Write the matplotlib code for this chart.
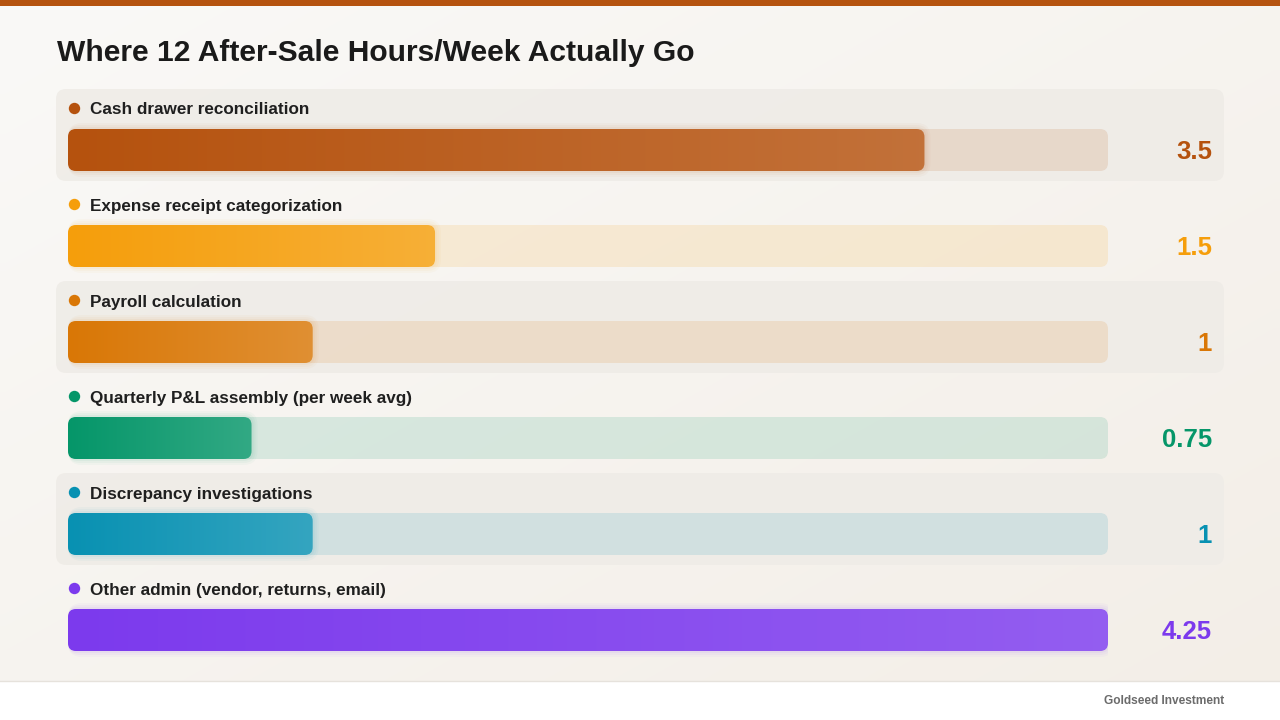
import numpy as np
import matplotlib
matplotlib.use("Agg")
import matplotlib.pyplot as plt
from matplotlib.patches import FancyBboxPatch, Rectangle
from matplotlib.colors import to_rgb
import matplotlib.transforms as mtransforms

plt.rcParams['font.family'] = ['Liberation Sans', 'DejaVu Sans']

title = "Where 12 After-Sale Hours/Week Actually Go"
categories = [
    "Cash drawer reconciliation",
    "Expense receipt categorization",
    "Payroll calculation",
    "Quarterly P&L assembly (per week avg)",
    "Discrepancy investigations",
    "Other admin (vendor, returns, email)",
]
hours = [3.5, 1.5, 1, 0.75, 1, 4.25]
colors = ["#B5520E", "#F59E0B", "#D97706", "#059669", "#0891B2", "#7C3AED"]
source = "Goldseed Investment"

W, H = 1280, 720
fig = plt.figure(figsize=(12.8, 7.2), dpi=100)

# background axes in pixel coordinates
bg = fig.add_axes([0, 0, 1, 1])
bg.set_xlim(0, W)
bg.set_ylim(H, 0)
bg.axis('off')

# diagonal soft gradient background
gy, gx = np.mgrid[0:1:72j, 0:1:128j]
t = (gx + gy) / 2
c0 = np.array(to_rgb("#FAF9F7"))
c1 = np.array(to_rgb("#F3EEE7"))
img = c0[None, None, :] * (1 - t[..., None]) + c1[None, None, :] * t[..., None]
bg.imshow(img, extent=(0, W, H, 0), aspect='auto', interpolation='bilinear', zorder=0)

# top stripe
bg.add_patch(Rectangle((0, 0), W, 6, fc="#B5530F", ec='none', zorder=1))
# footer
bg.add_patch(Rectangle((0, 681), W, 39, fc="white", ec='none', zorder=1))
bg.plot([0, W], [681, 681], color="#E6E2DC", lw=1, zorder=2)
bg.text(1224, 701, source, ha='right', va='center', fontsize=8.6,
        fontweight='bold', color="#6B6B6B", zorder=3)

# title
bg.text(57, 53, title, ha='left', va='center', fontsize=21.6,
        fontweight='bold', color="#1A1A1A", zorder=3)

# alternating row bands
row_pitch = 96
for i in range(len(categories)):
    if i % 2 == 0:
        bg.add_patch(FancyBboxPatch((56, 89 + row_pitch * i), 1168, 92,
                                    boxstyle="round,pad=0,rounding_size=10",
                                    fc="#EFECE7", ec='none', alpha=0.9, zorder=1))
bg.set_xlim(0, W)
bg.set_ylim(H, 0)

# bar axes: x in hours
n = len(categories)
ax = fig.add_axes([68 / W, (H - 678) / H, 1040 / W, 576 / H])
ax.patch.set_alpha(0)
ax.axis('off')
xmax = max(hours)
ax.set_xlim(0, xmax)
ax.set_ylim(n - 0.5, -0.5)

px_per_x = 1040 / xmax
px_per_y = 96.0
bh = 42 / px_per_y
r_px = 8
asp = px_per_x / px_per_y

blend = mtransforms.blended_transform_factory(ax.transAxes, ax.transData)

for i, (cat, v, c) in enumerate(zip(categories, hours, colors)):
    base = np.array(to_rgb(c))
    light = base + (1 - base) * 0.18
    # track
    track = FancyBboxPatch((0, i - bh / 2), xmax, bh,
                           boxstyle=f"round,pad=0,rounding_size={r_px / px_per_x}",
                           mutation_aspect=asp, fc=c, alpha=0.13, ec='none', zorder=1)
    ax.add_patch(track)
    # soft glow at bar
    for k, a in [(6, 0.03), (4, 0.04), (2, 0.05)]:
        glow = FancyBboxPatch((0, i - bh / 2 - k / px_per_y), v + k / px_per_x,
                              bh + 2 * k / px_per_y,
                              boxstyle=f"round,pad=0,rounding_size={(r_px + k) / px_per_x}",
                              mutation_aspect=asp, fc=c, alpha=a, ec='none', zorder=2)
        ax.add_patch(glow)
    # bar with gradient
    bar = FancyBboxPatch((0, i - bh / 2), v, bh,
                         boxstyle=f"round,pad=0,rounding_size={r_px / px_per_x}",
                         mutation_aspect=asp, fc='none', ec='none', zorder=3)
    ax.add_patch(bar)
    tt = np.linspace(0, 1, 256)
    grad = base[None, :] * (1 - tt[:, None]) + light[None, :] * tt[:, None]
    im = ax.imshow(grad[None, :, :], extent=(0, v, i + bh / 2, i - bh / 2),
                   aspect='auto', interpolation='bilinear', zorder=3)
    im.set_clip_path(bar)
    # dot + label
    ax.plot([6 / 1040], [i - 42 / px_per_y], marker='o', markersize=8.2,
            color=c, transform=blend, clip_on=False, zorder=4, mec='none')
    ax.text(22 / 1040, i - 40 / px_per_y, cat, transform=blend, ha='left',
            va='center', fontsize=12.3, fontweight='bold', color="#1F1F1F")
    # value
    ax.text(1144 / 1040, i + 2 / px_per_y, f"{v:g}", transform=blend, ha='right',
            va='center', fontsize=18.5, fontweight='bold', color=c)

ax.set_xlim(0, xmax)
ax.set_ylim(n - 0.5, -0.5)

fig.savefig("out.png", dpi=100)
